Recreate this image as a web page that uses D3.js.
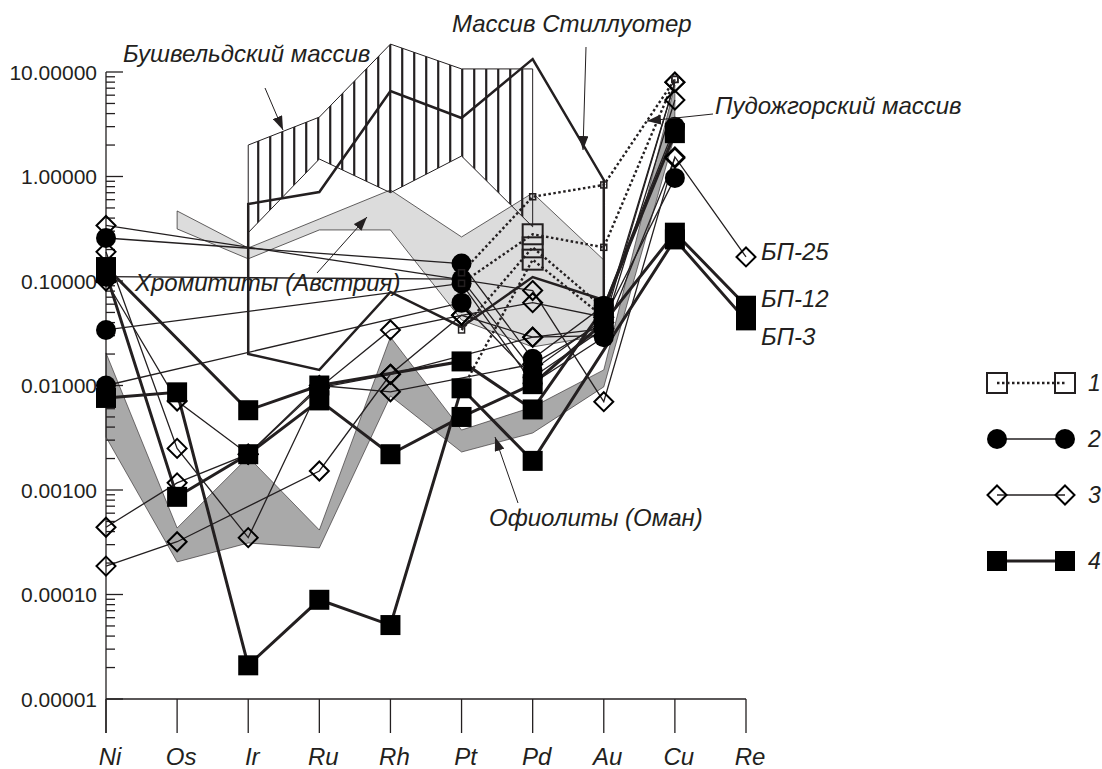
<!DOCTYPE html>
<html>
<head>
<meta charset="utf-8">
<script src="https://cdn.jsdelivr.net/npm/d3@7"></script>
<style>
  body { margin: 0; background: #fff; }
  text { font-family: "Liberation Sans", Arial, sans-serif; fill: #231f20; }
</style>
</head>
<body>
<svg id="chart" width="1102" height="769"></svg>
<script>
const _ = null;
const elements = ['Ni', 'Os', 'Ir', 'Ru', 'Rh', 'Pt', 'Pd', 'Au', 'Cu', 'Re'];
const yTicks = [1e-5, 1e-4, 1e-3, 1e-2, 1e-1, 1, 10];

// envelopes of the reference massifs
const bushveldTop    = [_, _, 2.0, 3.7, 18.5, 10.7, 10.7, _, _, _];
const bushveldBottom = [_, _, 0.29, 1.47, 0.70, 1.57, 0.33, _, _, _];
const stillwaterTop    = [_, _, 0.546, 0.711, 6.58, 3.63, 13.3, 0.926, _, _];
const stillwaterBottom = [_, _, 0.020, 0.0141, 0.0785, 0.0363, 0.109, 0.0658, _, _];
const chromTop    = [_, 0.468, 0.207, 0.392, 0.743, 0.264, 0.695, 0.159, _, _];
const chromBottom = [_, 0.315, 0.163, 0.308, 0.308, 0.0424, 0.0234, 0.0304, _, _];
const omanTop    = [0.0205, 0.000433, 0.00207, 0.000414, 0.0291, 0.00375, 0.00622, 0.0141, 7.5, _];
const omanBottom = [0.00321, 0.000205, 0.000311, 0.000279, 0.00794, 0.00231, 0.00351, 0.0097, 2.49, _];

// samples, group 1 (open squares, dotted)
const s1a = [_, _, _, _, _, 0.12, 0.64, 0.83, 8.5, _];
const s1b = [_, _, _, _, _, 0.095, 0.28, 0.21, 8.5, _];
const s1c = [_, _, _, _, _, 0.034, 0.21, 0.055, _, _];
const s1d = [_, _, _, _, _, 0.009, 0.16, 0.045, _, _];
// group 2 (filled circles)
const s2a = [0.258, _, _, _, _, 0.147, 0.018, 0.058, 3.0, _];
const s2b = [0.11, _, _, _, _, 0.104, 0.014, 0.043, 0.97, _];
const s2c = [0.034, _, _, _, _, 0.095, 0.0105, 0.029, _, _];
const s2d = [0.010, _, _, _, _, 0.062, 0.012, 0.035, _, _];
// group 3 (open diamonds)
const s3a = [0.34, _, _, _, _, _, 0.081, 0.0070, 1.54, 0.17];          // БП-25
const s3b = [0.19, 0.0025, 0.00035, 0.0095, 0.034, 0.047, 0.062, 0.045, 8.0, _];
const s3c = [0.10, 0.0071, 0.0022, 0.0095, 0.0128, _, 0.029, 0.035, 5.4, _];
const s3d = [0.00044, 0.00117, 0.0022, 0.0100, 0.0087, _, 0.016, 0.04, 8.0, _];
const s3e = [0.000187, 0.00032, _, 0.00152, 0.0128, 0.047, 0.029, 0.03, 1.5, _];
// group 4 (filled squares)
const s4a = [0.136, _, 0.0058, 0.0100, _, 0.017, 0.0059, 0.055, 2.6, _];
const s4b = [0.119, 0.00086, 0.0022, 0.0072, 0.0022, 0.005, 0.0103, 0.040, 0.29, 0.058];   // БП-12
const s4c = [0.0076, 0.0086, 0.000021, 0.000089, 0.000051, 0.0094, 0.0019, _, 0.25, 0.042]; // БП-3

const series = [
  { values: s3a, type: 3 }, { values: s3b, type: 3 }, { values: s3c, type: 3 },
  { values: s3d, type: 3 }, { values: s3e, type: 3 },
  { values: s2a, type: 2 }, { values: s2b, type: 2 }, { values: s2c, type: 2 }, { values: s2d, type: 2 },
  { values: s1a, type: 1, small: true }, { values: s1b, type: 1 }, { values: s1c, type: 1 }, { values: s1d, type: 1 },
  { values: s4a, type: 4 }, { values: s4b, type: 4 }, { values: s4c, type: 4 }
];

const ink = '#231f20';
const svg = d3.select('#chart');

const x = d3.scalePoint().domain(elements).range([106, 746]);
const y = d3.scaleLog().domain([1e-5, 10]).range([699, 72]);

const pts = arr => arr.map((v, i) => ({ el: elements[i], v })).filter(d => d.v != null);

const band = (top, bottom) => d3.area()
  .x(d => x(d.el))
  .y0(d => y(d.b))
  .y1(d => y(d.t))(top.map((t, i) => ({ el: elements[i], t, b: bottom[i] })).filter(d => d.t != null));

// shaded fields
svg.append('path').attr('d', band(omanTop, omanBottom))
  .attr('fill', '#a9a9a9').attr('stroke', ink).attr('stroke-width', 0.6);
svg.append('path').attr('d', band(chromTop, chromBottom))
  .attr('fill', '#dcdcdc').attr('stroke', ink).attr('stroke-width', 0.7);

// Bushveld: vertical hatching
const bushD = band(bushveldTop, bushveldBottom);
svg.append('clipPath').attr('id', 'bush').append('path').attr('d', bushD);
const hatchX = d3.range(x('Ir') + 10, x('Pd'), 12);
svg.append('g').attr('clip-path', 'url(#bush)')
  .selectAll('line').data(hatchX).join('line')
  .attr('x1', d => d).attr('x2', d => d).attr('y1', 30).attr('y2', 260)
  .attr('stroke', ink).attr('stroke-width', 2.2);
svg.append('path').attr('d', bushD).attr('fill', 'none').attr('stroke', ink).attr('stroke-width', 1);

// Stillwater envelope
svg.append('path').attr('d', band(stillwaterTop, stillwaterBottom))
  .attr('fill', 'none').attr('stroke', ink).attr('stroke-width', 2.5).attr('stroke-linejoin', 'miter');

// axes
const axis = svg.append('g').attr('stroke', ink).attr('stroke-width', 1.3);
axis.append('line').attr('x1', 106).attr('x2', 106).attr('y1', y(10)).attr('y2', 733);
axis.append('line').attr('x1', 106).attr('x2', x('Re')).attr('y1', y(1e-5)).attr('y2', y(1e-5));
const minor = [];
yTicks.slice(0, -1).forEach(t => d3.range(2, 10).forEach(k => minor.push(t * k)));
axis.selectAll('.minor').data(minor).join('line')
  .attr('x1', 106).attr('x2', 115).attr('y1', d => y(d)).attr('y2', d => y(d));
axis.selectAll('.major').data(yTicks).join('line')
  .attr('x1', 106).attr('x2', 123).attr('y1', d => y(d)).attr('y2', d => y(d));
axis.selectAll('.xt').data(elements).join('line')
  .attr('x1', d => x(d)).attr('x2', d => x(d)).attr('y1', y(1e-5)).attr('y2', 733);

svg.selectAll('.ylab').data(yTicks).join('text')
  .attr('x', 97).attr('y', d => y(d)).attr('dy', '0.36em')
  .attr('text-anchor', 'end').attr('font-size', 21)
  .text(d => d3.format('.5f')(d));
svg.selectAll('.xlab').data(elements).join('text')
  .attr('x', d => x(d) + 4).attr('y', 765)
  .attr('text-anchor', 'middle').attr('font-size', 24).attr('font-style', 'italic')
  .text(d => d);

// sample lines
const line = d3.line().x(d => x(d.el)).y(d => y(d.v));
const lineStyle = {
  1: { w: 2.4, dash: '2.5,2.5' },
  2: { w: 1.3, dash: null },
  3: { w: 1.3, dash: null },
  4: { w: 3, dash: null }
};
svg.append('g').selectAll('path').data(series).join('path')
  .attr('d', s => line(pts(s.values)))
  .attr('fill', 'none').attr('stroke', ink)
  .attr('stroke-width', s => lineStyle[s.type].w)
  .attr('stroke-dasharray', s => lineStyle[s.type].dash);

function drawMarker(g, type, cx, cy, size) {
  const h = size / 2;
  if (type === 1) {
    g.append('rect').attr('x', cx - h).attr('y', cy - h).attr('width', size).attr('height', size)
      .attr('fill', 'none').attr('stroke', ink).attr('stroke-width', size > 10 ? 2 : 1.5);
  } else if (type === 2) {
    g.append('circle').attr('cx', cx).attr('cy', cy).attr('r', h).attr('fill', '#000');
  } else if (type === 3) {
    g.append('path').attr('d', `M${cx},${cy - h}L${cx + h},${cy}L${cx},${cy + h}L${cx - h},${cy}Z`)
      .attr('fill', 'none').attr('stroke', '#000').attr('stroke-width', 2);
  } else {
    g.append('rect').attr('x', cx - h).attr('y', cy - h).attr('width', size).attr('height', size).attr('fill', '#000');
  }
}

const markers = svg.append('g');
series.forEach(s => {
  pts(s.values).forEach(d => {
    let size = s.type === 3 ? 19 : 20;
    if (s.type === 1 && (s.small || d.el !== 'Pd')) size = 6;
    drawMarker(markers, s.type, x(d.el), y(d.v), size);
  });
});

// labels of samples
const lab = svg.append('g').attr('font-size', 24).attr('font-style', 'italic');
lab.append('text').attr('x', 761).attr('y', 260).text('БП-25');
lab.append('text').attr('x', 761).attr('y', 307).text('БП-12');
lab.append('text').attr('x', 761).attr('y', 345).text('БП-3');

// field names and arrows
svg.append('defs').append('marker').attr('id', 'arrow')
  .attr('viewBox', '0 0 14 10').attr('refX', 14).attr('refY', 5)
  .attr('markerWidth', 14).attr('markerHeight', 10).attr('markerUnits', 'userSpaceOnUse')
  .attr('orient', 'auto')
  .append('path').attr('d', 'M0,0L14,5L0,10Z').attr('fill', ink);

const notes = svg.append('g').attr('font-size', 24).attr('font-style', 'italic');
notes.append('text').attr('x', 123).attr('y', 62).text('Бушвельдский массив');
notes.append('text').attr('x', 452).attr('y', 32).text('Массив Стиллуотер');
notes.append('text').attr('x', 715).attr('y', 114).text('Пудожгорский массив');
notes.append('text').attr('x', 135).attr('y', 291).text('Хромититы (Австрия)');
notes.append('text').attr('x', 489).attr('y', 526).text('Офиолиты (Оман)');

const arrows = [
  [265, 88, 283, 130],
  [586, 47, 583, 150],
  [713, 114, 647, 121],
  [317, 273, 367, 217],
  [518, 503, 495, 437]
];
svg.append('g').selectAll('line').data(arrows).join('line')
  .attr('x1', d => d[0]).attr('y1', d => d[1]).attr('x2', d => d[2]).attr('y2', d => d[3])
  .attr('stroke', ink).attr('stroke-width', 1).attr('marker-end', 'url(#arrow)');

// legend
const legendY = [383, 439, 495, 561];
const leg = svg.append('g');
[1, 2, 3, 4].forEach((t, i) => {
  const ly = legendY[i];
  leg.append('line').attr('x1', 997).attr('x2', 1065).attr('y1', ly).attr('y2', ly)
    .attr('stroke', ink).attr('stroke-width', lineStyle[t].w)
    .attr('stroke-dasharray', lineStyle[t].dash);
  drawMarker(leg, t, 997, ly, t === 3 ? 19 : 20);
  drawMarker(leg, t, 1065, ly, t === 3 ? 19 : 20);
  leg.append('text').attr('x', 1088).attr('y', ly).attr('dy', '0.36em')
    .attr('font-size', 23).attr('font-style', 'italic').text(t);
});
</script>
</body>
</html>
